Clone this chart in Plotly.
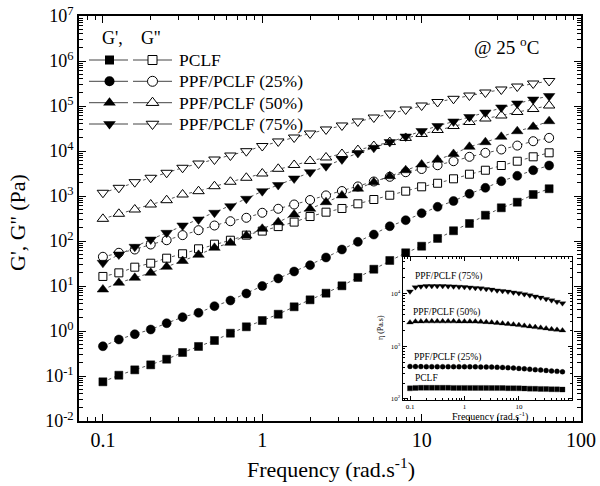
import plotly.graph_objects as go

# ---------------- data ----------------
freq = [0.1, 0.1259, 0.1585, 0.1995, 0.2512, 0.3162, 0.3981, 0.5012, 0.631, 0.7943,
        1.0, 1.259, 1.585, 1.995, 2.512, 3.162, 3.981, 5.012, 6.31, 7.943,
        10.0, 12.59, 15.85, 19.95, 25.12, 31.62, 39.81, 50.12, 63.1]

pclf_g1 = [0.0743, 0.104, 0.137, 0.177, 0.236, 0.333, 0.453, 0.615, 0.893, 1.24,
           1.71, 2.36, 3.45, 4.93, 6.92, 10.1, 15.5, 23.6, 36.9, 54.7,
           76.6, 114, 169, 245, 374, 547, 728, 1080, 1450]
pclf_g2 = [16.3, 19.6, 26.2, 32.1, 41.5, 52.0, 67.1, 84.9, 104, 135,
           166, 209, 263, 350, 437, 528, 671, 836, 1040, 1280,
           1600, 1920, 2410, 3050, 3740, 4760, 5930, 7430, 9120]
ppf25_g1 = [0.459, 0.647, 0.849, 1.08, 1.49, 2.03, 2.54, 3.56, 4.76, 6.81,
            10.0, 14.7, 21.0, 29.0, 43.0, 64.7, 95.9, 139, 213, 290,
            415, 575, 774, 1120, 1520, 2130, 2810, 3740, 4760]
ppf25_g2 = [44.6, 54.7, 64.7, 83.6, 104, 135, 174, 221, 275, 328,
            424, 520, 647, 815, 1030, 1290, 1630, 2100, 2670, 3380,
            3980, 4830, 5930, 7430, 9120, 10800, 13200, 16500, 19600]
ppf50_g1 = [8.36, 11.8, 15.2, 19.6, 26.7, 36.0, 49.3, 70.6, 91.2, 132,
            187, 262, 388, 520, 728, 1030, 1450, 2030, 2750, 3740,
            5010, 6400, 8600, 12400, 15700, 20700, 27500, 34500, 45900]
ppf50_g2 = [311, 402, 501, 647, 807, 1080, 1280, 1650, 2070, 2540,
            3160, 4020, 4890, 6000, 7180, 8580, 10500, 12900, 15800, 19500,
            23900, 29300, 35900, 44100, 52700, 61500, 73600, 85700, 102600]
ppf75_g1 = [32.8, 50.1, 74.3, 108, 152, 221, 301, 424, 593, 867,
            1280, 1750, 2450, 3380, 4590, 6500, 9000, 11800, 15800, 21000,
            27800, 35900, 45300, 57000, 71700, 92700, 113700, 139300, 166700]
ppf75_g2 = [1180, 1520, 2030, 2540, 3280, 4240, 5270, 6470, 7940, 9910,
            12900, 16300, 19950, 24500, 30100, 36900, 45300, 55500, 68100, 83600,
            102600, 122700, 144500, 171000, 199500, 232800, 271000, 316000, 359500]

# inset: complex viscosity
eta_pclf = [159, 162, 163, 163, 163, 163, 163, 163, 162, 162,
            162, 162, 162, 162, 162, 161, 161, 161, 160, 160,
            159, 158, 157, 156, 155, 154, 153, 152, 151]
eta_25 = [415, 412, 411, 410, 410, 410, 410, 410, 410, 409,
          409, 408, 407, 406, 405, 403, 400, 397, 392, 386,
          380, 373, 367, 360, 354, 347, 340, 334, 327]
eta_50 = [2830, 2950, 2960, 2970, 2970, 2970, 2970, 2970, 2970, 2960,
          2960, 2950, 2940, 2920, 2870, 2830, 2770, 2710, 2650, 2590,
          2520, 2450, 2380, 2310, 2250, 2180, 2110, 2060, 2000]
eta_75 = [11000, 13200, 13700, 13900, 13900, 13900, 13900, 13800, 13700, 13500,
          13300, 13100, 12800, 12600, 12200, 11900, 11500, 11200, 10900, 10500,
          10200, 9750, 9270, 8830, 8380, 7920, 7450, 6980, 6550]

series_names = ["PCLF", "PPF/PCLF (25%)", "PPF/PCLF (50%)", "PPF/PCLF (75%)"]
x_tickvals = [0.1, 1, 10, 100]
x_ticktext = ["0.1", "1", "10", "100"]
y_tickvals = [1e-2, 1e-1, 1, 1e1, 1e2, 1e3, 1e4, 1e5, 1e6, 1e7]
y_ticktext = ["10<sup>-2</sup>", "10<sup>-1</sup>", "10<sup>0</sup>", "10<sup>1</sup>",
              "10<sup>2</sup>", "10<sup>3</sup>", "10<sup>4</sup>", "10<sup>5</sup>",
              "10<sup>6</sup>", "10<sup>7</sup>"]
inset_y_tickvals = [1e2, 1e3, 1e4]
inset_y_ticktext = ["10<sup>2</sup>", "10<sup>3</sup>", "10<sup>4</sup>"]

# ---------------- layout constants ----------------
W, H = 600, 486
L_M, R_M, T_M, B_M = 79, 19, 16, 65
PW, PH = W - L_M - R_M, H - T_M - B_M
FONT = "Liberation Serif"


def px(x):
    return (x - L_M) / PW


def py(y):
    return (H - B_M - y) / PH


def minor_vals(lo, hi):
    return [m * 10 ** e for e in range(lo, hi) for m in range(2, 10)]


fig = go.Figure()

symbols = ["square", "circle", "triangle-up", "triangle-down"]
sizes = [8, 9, 10, 10]
g1_all = [pclf_g1, ppf25_g1, ppf50_g1, ppf75_g1]
g2_all = [pclf_g2, ppf25_g2, ppf50_g2, ppf75_g2]
line_style = dict(color="#555555", width=1, dash="3px,3px")

# open symbols (G'') first, filled (G') on top
for sym, sz, vals, name in zip(symbols, sizes, g2_all, series_names):
    fig.add_trace(go.Scatter(x=freq, y=vals, mode="lines+markers", name=name + " G''",
                             line=line_style,
                             marker=dict(symbol=sym, size=sz, color="white",
                                         line=dict(color="black", width=1)),
                             showlegend=False))
for sym, sz, vals, name in zip(symbols, sizes, g1_all, series_names):
    fig.add_trace(go.Scatter(x=freq, y=vals, mode="lines+markers", name=name + " G'",
                             line=line_style,
                             marker=dict(symbol=sym, size=sz, color="black",
                                         line=dict(color="black", width=0.5)),
                             showlegend=False))

# inset traces
inset_sizes = [5, 5, 6, 6]
for sym, sz, vals, name in zip(symbols, inset_sizes, [eta_pclf, eta_25, eta_50, eta_75], series_names):
    fig.add_trace(go.Scatter(x=freq, y=vals, mode="markers", name=name + " eta",
                             xaxis="x2", yaxis="y2",
                             marker=dict(symbol=sym, size=sz, color="black",
                                         line=dict(color="black", width=0.3)),
                             showlegend=False))

# hand-drawn legend glyphs on a pixel overlay axis
row_y = [60, 81.3, 102.7, 124]
for i, sym in enumerate(symbols):
    yy = H - B_M - row_y[i]
    fig.add_trace(go.Scatter(x=[89 - L_M, 128 - L_M, None, 133 - L_M, 172 - L_M],
                             y=[yy, yy, None, yy, yy], mode="lines",
                             line=dict(color="#444444", width=1),
                             xaxis="x3", yaxis="y3", showlegend=False, hoverinfo="skip"))
    fig.add_trace(go.Scatter(x=[109.5 - L_M], y=[yy], mode="markers",
                             marker=dict(symbol=sym, size=sizes[i] + 1, color="black"),
                             xaxis="x3", yaxis="y3", showlegend=False, hoverinfo="skip"))
    fig.add_trace(go.Scatter(x=[152.5 - L_M], y=[yy], mode="markers",
                             marker=dict(symbol=sym, size=sizes[i] + 1, color="white",
                                         line=dict(color="black", width=1)),
                             xaxis="x3", yaxis="y3", showlegend=False, hoverinfo="skip"))


def anno(text, x, y, size, xanchor="center", angle=0):
    return dict(text=text, x=px(x), y=py(y), xref="paper", yref="paper",
                xanchor=xanchor, yanchor="middle", showarrow=False, textangle=angle,
                font=dict(size=size, family=FONT, color="black"))


annos = [anno("G',", 112, 38, 18), anno("G''", 150.5, 38, 18)]
for i, name in enumerate(series_names):
    annos.append(anno(name, 177, row_y[i], 17.5, xanchor="left"))
annos.append(anno("@ 25 <sup>o</sup>C", 506.5, 46, 19))
# axis titles
annos.append(anno("Frequency (rad.s<sup>-1</sup>)", 331, 468, 22))
annos.append(anno("G', G'' (Pa)", 18, 223, 22, angle=-90))
# inset labels
inset_lbl = [("PPF/PCLF (75%)", 413, 276), ("PPF/PCLF (50%)", 411, 312.7),
             ("PPF/PCLF (25%)", 412, 357.3), ("PCLF", 412.7, 377.7)]
for t, x0, y0 in inset_lbl:
    annos.append(anno(t, x0, y0, 9.5, xanchor="left"))
annos.append(anno("Frequency (rad.s<sup>-1</sup>)", 490, 416, 10))
annos.append(anno("η (Pa.s)", 380, 328, 8, angle=-90))

axis_common = dict(showline=True, linecolor="black", mirror="allticks", ticks="inside",
                   showgrid=False, zeroline=False, tickcolor="black", automargin=False)

fig.update_layout(
    template="none",
    width=W, height=H, autosize=False,
    margin=dict(l=L_M, r=R_M, t=T_M, b=B_M, autoexpand=False),
    paper_bgcolor="white", plot_bgcolor="white",
    font=dict(family=FONT, color="black"),
    xaxis=dict(type="log", range=[-1.15, 2.0], tickvals=x_tickvals, ticktext=x_ticktext,
               ticklen=7, tickwidth=1, linewidth=1.5, tickfont=dict(size=20, family=FONT),
               minor=dict(tickvals=minor_vals(-2, 2), ticks="inside", ticklen=4,
                          tickcolor="black"),
               **axis_common),
    yaxis=dict(type="log", range=[-2, 7], tickvals=y_tickvals, ticktext=y_ticktext,
               ticklen=7, tickwidth=1, linewidth=1.5, tickfont=dict(size=18, family=FONT),
               minor=dict(tickvals=minor_vals(-2, 7), ticks="inside", ticklen=4,
                          tickcolor="black"),
               **axis_common),
    xaxis2=dict(type="log", range=[-1.134, 1.97], domain=[px(402.7), px(571.7)], anchor="y2",
                tickvals=x_tickvals, ticktext=x_ticktext, ticklen=4, linewidth=1,
                tickfont=dict(size=7, family=FONT),
                minor=dict(tickvals=minor_vals(-2, 2), ticks="inside", ticklen=2,
                           tickcolor="black"),
                **axis_common),
    yaxis2=dict(type="log", range=[1.98, 4.70], domain=[py(400), py(256.7)], anchor="x2",
                tickvals=inset_y_tickvals, ticktext=inset_y_ticktext, ticklen=4, linewidth=1,
                tickfont=dict(size=7, family=FONT),
                minor=dict(tickvals=minor_vals(1, 5), ticks="inside", ticklen=2,
                           tickcolor="black"),
                **axis_common),
    xaxis3=dict(range=[0, PW], domain=[0, 1], overlaying="x", visible=False, anchor="y3"),
    yaxis3=dict(range=[0, PH], domain=[0, 1], overlaying="y", visible=False, anchor="x3"),
    annotations=annos,
)

fig.write_html("out.html", config={"displayModeBar": False},
               post_script="document.body.style.margin='0px';")
